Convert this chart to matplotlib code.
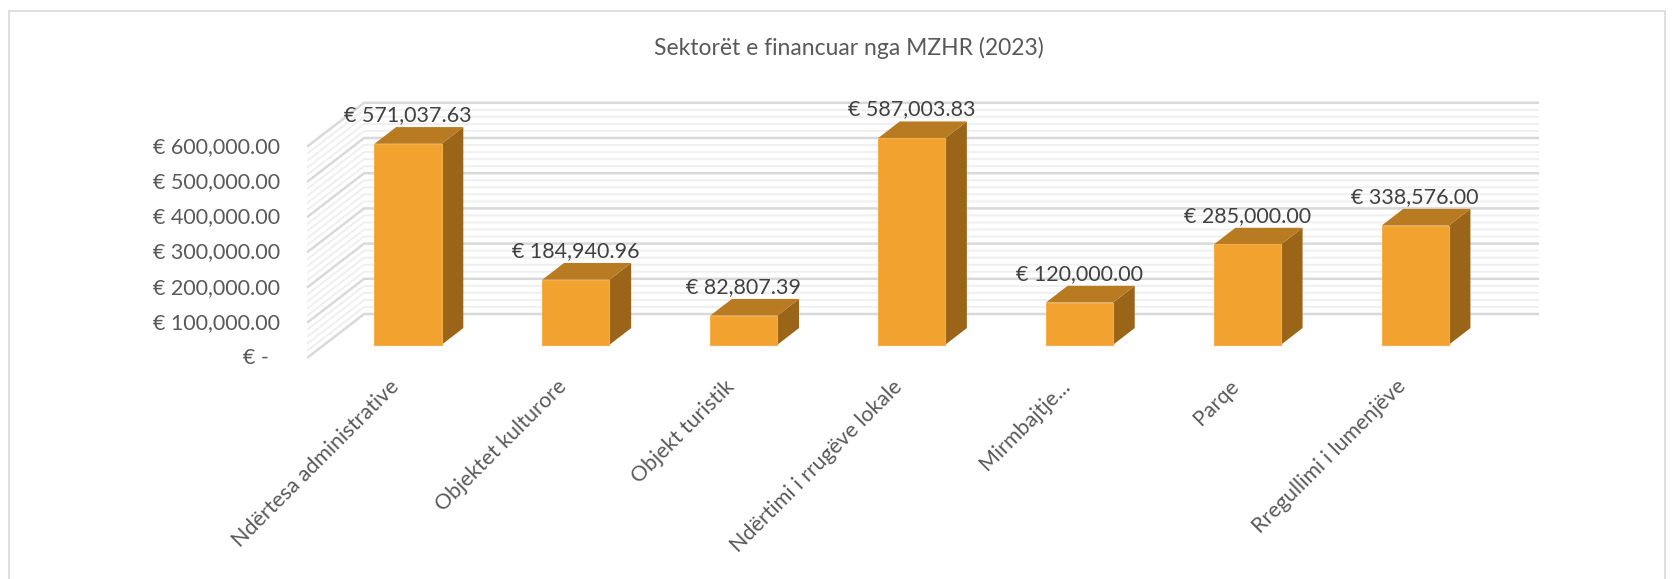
import matplotlib
matplotlib.use('Agg')
import matplotlib.pyplot as plt
from matplotlib.patches import Polygon, Rectangle

plt.rcParams['font.family'] = ['Lato', 'DejaVu Sans']

# data
categories = ['Ndërtesa administrative', 'Objektet kulturore', 'Objekt turistik',
              'Ndërtimi i rrugëve lokale', 'Mirmbajtje...', 'Parqe',
              'Rregullimi i lumenjëve']
values = [571037.63, 184940.96, 82807.39, 587003.83, 120000.00, 285000.00, 338576.00]
ticks = [0, 100000, 200000, 300000, 400000, 500000, 600000]
minor_step = 20000
title = 'Sektorët e financuar nga MZHR (2023)'

front_col = '#F1A22F'
top_col = '#B97B22'
side_col = '#9B6519'
grid_major = '#D9D9D9'
grid_minor = '#EFEFEF'
txt_col = '#595959'

# oblique projection: full floor depth shift in data units
DX = 0.34
DY = 125000
bar_w = 0.4
d_front, d_back = 0.3, 0.68


def proj(x, y, d):
    return (x + d * DX, y + d * DY)


def fmt(v):
    if v == 0:
        return '€ -'
    return '€ {:,.2f}'.format(v)


fig = plt.figure(figsize=(16.74, 5.79), dpi=100)
ax = fig.add_axes([0, 0, 1, 1])
ax.set_xlim(-1.829, 8.144)
ax.set_ylim(-627840, 1017045)
ax.axis('off')

# chart border
fig.add_artist(Rectangle((9 / 1674, -0.05), 1656 / 1674, 1.05 - 11 / 579,
                         transform=fig.transFigure, fill=False,
                         edgecolor='#D9D9D9', linewidth=1.2))

fig.text(849 / 1674, 1 - 48 / 579, title, ha='center', va='center',
         fontsize=16.5, color=txt_col)

n = len(categories)
top_val = ticks[-1]

# walls with gridlines (minor first, then major)
grid_vals = list(range(0, top_val + 1, minor_step))
for v in grid_vals:
    major = v in ticks
    col = grid_major if major else grid_minor
    lw = 1.8 if major else 1.4
    x0, y0 = proj(0, v, 0)
    x1, y1 = proj(0, v, 1)
    x2, y2 = proj(n, v, 1)
    ax.plot([x0, x1, x2], [y0, y1, y2], color=col, lw=lw,
            solid_capstyle='butt', zorder=2 if major else 1)

# y tick labels
for v in ticks:
    x = -0.16 if v else -0.226
    ax.text(x, v, fmt(v), ha='right', va='center', fontsize=15.5, color=txt_col)

# bars
for i, v in enumerate(values):
    xl = i + 0.5 - bar_w / 2
    xr = i + 0.5 + bar_w / 2
    side = [proj(xr, 0, d_front), proj(xr, 0, d_back),
            proj(xr, v, d_back), proj(xr, v, d_front)]
    top = [proj(xl, v, d_front), proj(xl, v, d_back),
           proj(xr, v, d_back), proj(xr, v, d_front)]
    front = [proj(xl, 0, d_front), proj(xr, 0, d_front),
             proj(xr, v, d_front), proj(xl, v, d_front)]
    ax.add_patch(Polygon(side, closed=True, facecolor=side_col, edgecolor='none', zorder=3))
    ax.add_patch(Polygon(top, closed=True, facecolor=top_col, edgecolor='none', zorder=3))
    ax.add_patch(Polygon(front, closed=True, facecolor=front_col,
                         edgecolor='#F3AE4A', linewidth=0.8, zorder=4))
    lx, ly = proj(i + 0.5, v, d_back)
    ax.text(proj(i + 0.5, v, d_front)[0], ly + 6000, fmt(v), ha='center', va='bottom',
            fontsize=15.5, color='#404040', zorder=5)

# category labels
for i, c in enumerate(categories):
    ax.text(i + 0.5 + 0.03, -72000, c, ha='right', va='center', rotation=45,
            rotation_mode='anchor', fontsize=15.5, color=txt_col)

fig.savefig('out.png', dpi=100)
